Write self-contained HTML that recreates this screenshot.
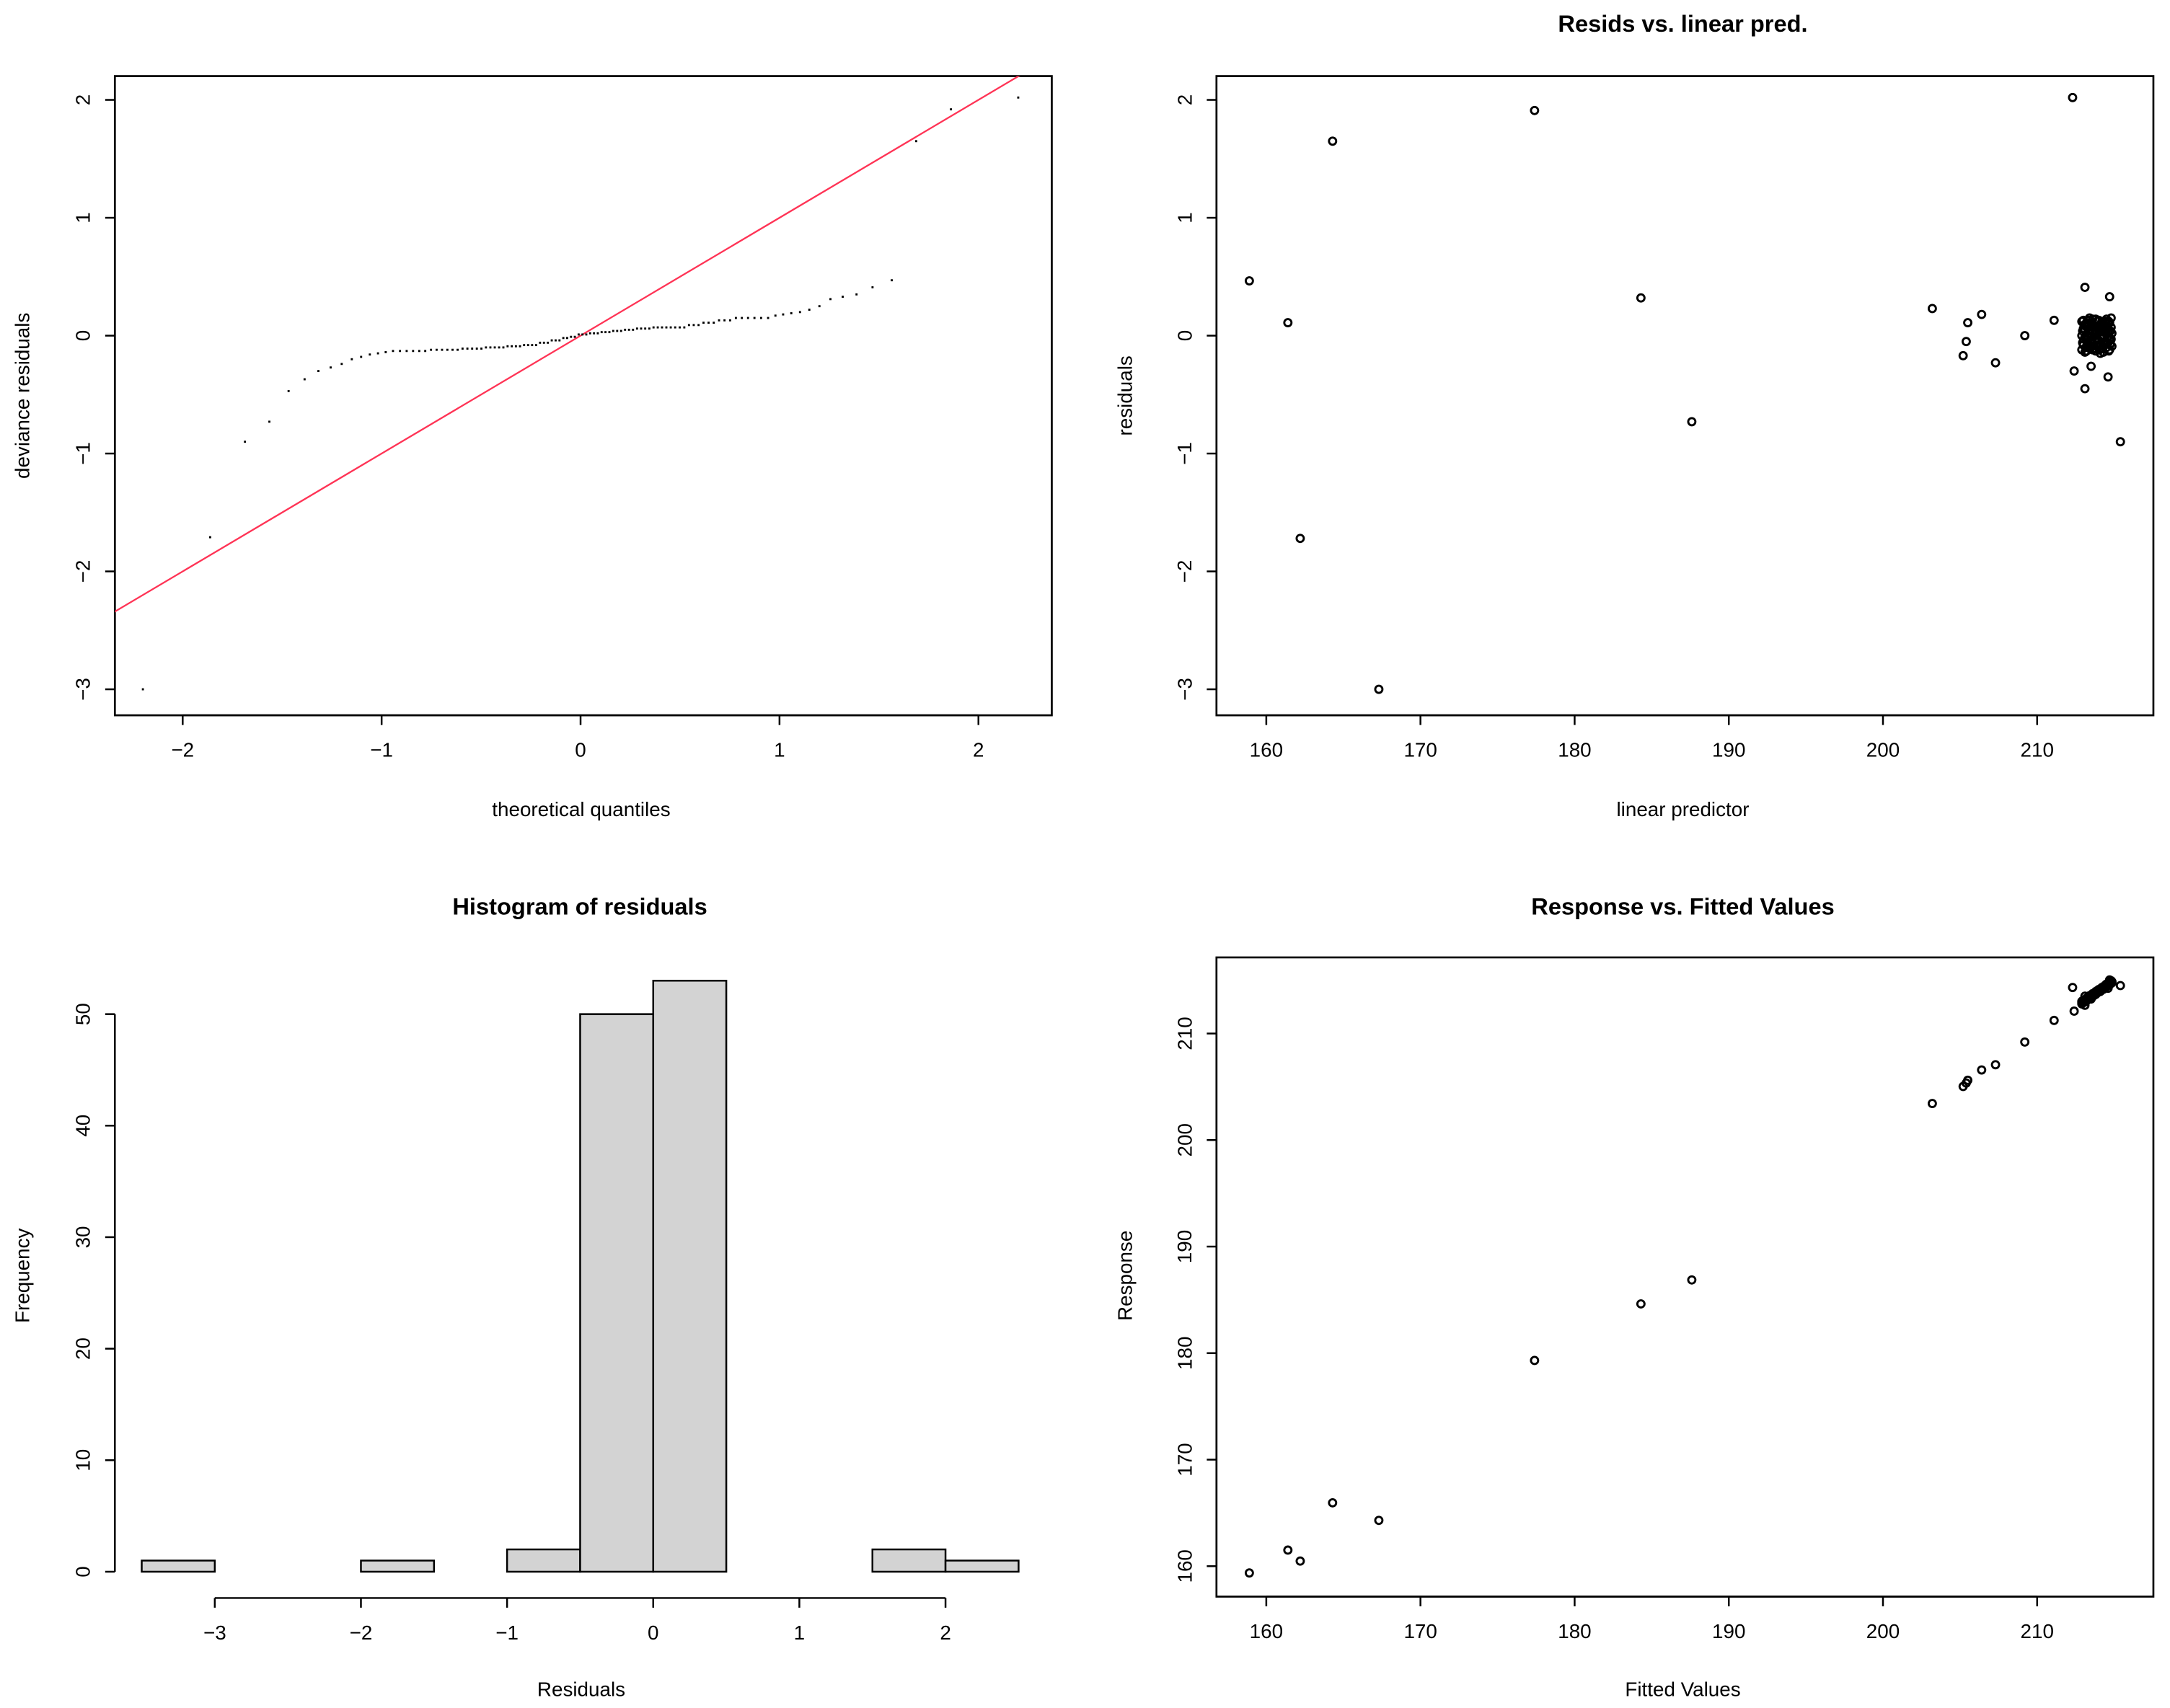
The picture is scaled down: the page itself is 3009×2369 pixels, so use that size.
<!DOCTYPE html>
<html><head><meta charset="utf-8"><style>
html,body{margin:0;padding:0;background:#fff}
svg{display:block;font-family:"Liberation Sans",sans-serif}
</style></head><body>
<svg id="s" width="3009" height="2369" viewBox="0 0 1568 1234.5" xmlns="http://www.w3.org/2000/svg"></svg>
<script>
// ---- data ----
const qqResiduals = [-3.0,-1.71,-0.9,-0.73,
 -0.47,-0.37,-0.30,-0.27,-0.24,-0.20,-0.18,-0.16,-0.15,-0.14,
 -0.13,-0.13,-0.13,-0.13,-0.13,-0.13,-0.12,-0.12,-0.12,-0.12,-0.12,-0.12,
 -0.11,-0.11,-0.11,-0.11,-0.11,-0.10,-0.10,-0.10,-0.10,-0.10,
 -0.09,-0.09,-0.09,-0.09,-0.08,-0.08,-0.08,-0.08,-0.06,-0.06,-0.06,
 -0.04,-0.04,-0.04,-0.02,-0.02,-0.01,-0.01,
 0.01,0.01,0.01,0.02,0.02,0.02,0.03,0.03,0.03,0.04,0.04,0.04,0.05,0.05,0.05,
 0.06,0.06,0.06,0.06,0.07,0.07,0.07,0.07,0.07,0.07,0.07,0.07,
 0.09,0.09,0.09,0.11,0.11,0.11,0.13,0.13,0.13,0.15,0.15,0.15,0.15,0.15,0.15,
 0.17,0.18,0.19,0.20,0.22,0.25,0.31,0.33,0.35,0.41,0.47,
 1.65,1.92,2.02];
const histBreaks = [-3.5,-3,-2.5,-2,-1.5,-1,-0.5,0,0.5,1,1.5,2,2.5];
const fittedOut = [158.9,161.4,162.2,164.3,167.3,177.4,184.3,187.6,203.2,205.2,205.4,205.5,206.4,207.3,209.2,211.1,212.3,212.4,213.1,213.1,213.5,214.6,214.7,215.4];
const residOut  = [0.465,0.11,-1.72,1.65,-3.0,1.91,0.32,-0.73,0.23,-0.17,-0.05,0.11,0.18,-0.23,0.0,0.13,2.02,-0.30,0.41,-0.45,-0.26,-0.35,0.33,-0.9];
const fittedCluster = [212.9,213.0,213.1,213.2,213.3,213.4,213.5,213.6,213.7,213.8,213.9,214.0,214.1,214.2,214.3,214.4,214.5,214.6,214.7,214.8,
 212.9,213.0,213.1,213.2,213.3,213.4,213.5,213.6,213.7,213.8,213.9,214.0,214.1,214.2,214.3,214.4,214.5,214.6,214.7,214.8,
 212.9,213.0,213.1,213.2,213.3,213.4,213.5,213.6,213.7,213.8,213.9,214.0,214.1,214.2,214.3,214.4,214.5,214.6,214.7,214.8,
 212.95,213.05,213.15,213.25,213.35,213.45,213.55,213.65,213.75,213.85,213.95,214.05,214.15,214.25,214.35,214.45,214.55,214.65,214.75,214.85,
 212.95,213.05,213.15,213.25,213.35,213.45,213.55,213.65,213.75,213.85,213.95,214.05,214.15,214.25,214.35,214.45,214.55,214.65,214.75,214.85];
const residCluster = [0.12,-0.08,0.05,-0.13,0.10,0.02,-0.05,0.14,-0.11,0.07,-0.02,0.13,-0.09,0.04,-0.14,0.09,0.01,-0.06,0.11,-0.03,
 -0.12,0.06,-0.01,0.11,-0.07,0.15,-0.10,0.03,0.08,-0.13,0.12,-0.04,0.06,-0.11,0.10,-0.08,0.14,0.03,-0.12,0.07,
 0.00,0.13,-0.14,-0.03,0.04,-0.09,0.09,-0.12,0.01,0.14,-0.06,0.08,-0.15,0.12,-0.01,0.05,-0.10,0.10,-0.04,0.15,
 -0.06,0.09,-0.10,0.07,-0.02,0.05,0.11,-0.07,0.03,-0.09,0.06,-0.12,0.10,0.00,0.07,-0.05,-0.02,0.12,0.04,-0.09,
 0.04,-0.03,0.08,-0.06,0.13,-0.11,0.00,0.09,-0.04,0.02,-0.08,0.03,-0.01,0.08,-0.06,0.12,0.06,-0.13,-0.07,0.02];
const qqXTicks = [-2,-1,0,1,2];
const residYTicks = [-3,-2,-1,0,1,2];
const fitXTicks = [160,170,180,190,200,210];
const respYTicks = [160,170,180,190,200,210];
const histXTicks = [-3,-2,-1,0,1,2];
const histYTicks = [0,10,20,30,40,50];

const S=document.getElementById('s'),NS='http://www.w3.org/2000/svg';
function mk(t,a,p){const e=document.createElementNS(NS,t);for(const k in a)e.setAttribute(k,a[k]);(p||S).appendChild(e);return e;}
function txt(x,y,s,o){const e=mk('text',{x:x,y:y,'text-anchor':'middle','font-size':(o&&o.fs)||14.5,fill:'#000'});
 if(o&&o.bold)e.setAttribute('font-weight','bold');if(o&&o.rot)e.setAttribute('transform','rotate(-90 '+x+' '+y+')');e.textContent=s;return e;}
function lin(d0,d1,r0,r1){return v=>r0+(v-d0)*(r1-r0)/(d1-d0);}
function box(x0,y0,x1,y1,name){const r=mk('rect',{x:x0,y:y0,width:x1-x0,height:y1-y0,fill:'none',stroke:'#000','stroke-width':1.4});}
function xAxis(ticks,sx,y,name){const g=mk('g',{});
 mk('line',{x1:sx(ticks[0]),x2:sx(ticks[ticks.length-1]),y1:y,y2:y,stroke:'#000','stroke-width':1.3},g);
 ticks.forEach(t=>{mk('line',{x1:sx(t),x2:sx(t),y1:y,y2:y+7,stroke:'#000','stroke-width':1.3},g);const e=txt(sx(t),y+30,String(t).replace('-','\u2212'));g.appendChild(e);});}
function yAxis(ticks,sy,x,name){const g=mk('g',{});
 mk('line',{x1:x,x2:x,y1:sy(ticks[0]),y2:sy(ticks[ticks.length-1]),stroke:'#000','stroke-width':1.3},g);
 ticks.forEach(t=>{mk('line',{x1:x,x2:x-7,y1:sy(t),y2:sy(t),stroke:'#000','stroke-width':1.3},g);const e=txt(x-18,sy(t),String(t).replace('-','\u2212'),{rot:1});g.appendChild(e);});}

// ---- panel 1: QQ ----
const q1x=lin(0,1,419.5,563.25), q1y=lin(0,1,242.6,157.4);
const clip=mk('clipPath',{id:'c1'});mk('rect',{x:83,y:55,width:677,height:462},clip);
box(83,55,760,517,'qq-plot-box');
xAxis(qqXTicks,q1x,517,'qq-x-axis');yAxis(residYTicks,q1y,83,'qq-y-axis');
txt(420,590,'theoretical quantiles');
txt(21,286,'deviance residuals',{rot:1});
const ref=mk('line',{x1:q1x(-2.5),y1:q1y(-2.5),x2:q1x(2.5),y2:q1y(2.5),stroke:'#ff3355','stroke-width':1.2,'clip-path':'url(#c1)'});

function qnorm(p){const a=[-39.69683028665376,220.9460984245205,-275.9285104469687,138.357751867269,-30.66479806614716,2.506628277459239],b=[-54.47609879822406,161.5858368580409,-155.6989798598866,66.80131188771972,-13.28068155288572],c=[-0.007784894002430293,-0.3223964580411365,-2.400758277161838,-2.549732539343734,4.374664141464968,2.938163982698783],d=[0.007784695709041462,0.3224671290700398,2.445134137142996,3.754408661907416];
 let q,r;if(p<0.02425){q=Math.sqrt(-2*Math.log(p));return(((((c[0]*q+c[1])*q+c[2])*q+c[3])*q+c[4])*q+c[5])/((((d[0]*q+d[1])*q+d[2])*q+d[3])*q+1);}
 if(p>1-0.02425){q=Math.sqrt(-2*Math.log(1-p));return-(((((c[0]*q+c[1])*q+c[2])*q+c[3])*q+c[4])*q+c[5])/((((d[0]*q+d[1])*q+d[2])*q+d[3])*q+1);}
 q=p-0.5;r=q*q;return(((((a[0]*r+a[1])*r+a[2])*r+a[3])*r+a[4])*r+a[5])*q/(((((b[0]*r+b[1])*r+b[2])*r+b[3])*r+b[4])*r+1);}
const qs=qqResiduals.slice().sort((a,b)=>a-b),n=qs.length,qmax=Math.abs(qnorm(0.5/n)),qsc=2.2/qmax;
const gq=mk('g',{});
qs.forEach((v,i)=>{const t=qnorm((i+0.5)/n)*qsc;const p=mk('rect',{x:q1x(t)-0.75,y:q1y(v)-0.75,width:1.5,height:1.5,fill:'#000'},gq);});

// ---- panel 2: resid vs linear pred ----
const f2x=lin(160,210,915,1472), f2y=q1y;
const fitted=fittedOut.concat(fittedCluster), resid=residOut.concat(residCluster);
box(879,55,1556,517,'resid-plot-box');
xAxis(fitXTicks,f2x,517,'resid-x-axis');yAxis(residYTicks,f2y,879,'resid-y-axis');
txt(1216,23,'Resids vs. linear pred.',{bold:1,fs:17});
txt(1216,590,'linear predictor');
txt(818,286,'residuals',{rot:1});
const g2=mk('g',{});
fitted.forEach((f,i)=>{const c=mk('circle',{cx:f2x(f),cy:f2y(resid[i]),r:2.6,fill:'none',stroke:'#000','stroke-width':1.5},g2);});

// ---- panel 3: histogram ----
const h3x=lin(0,1,472,577.6), h3y=lin(0,50,1136,733);
const counts=histBreaks.slice(0,-1).map((b,i)=>qqResiduals.filter(v=>v>b&&v<=histBreaks[i+1]).length);
xAxis(histXTicks,h3x,1155,'hist-x-axis');yAxis(histYTicks,h3y,83,'hist-y-axis');
txt(419,661,'Histogram of residuals',{bold:1,fs:17});
txt(420,1226,'Residuals');
txt(21,922,'Frequency',{rot:1});
const g3=mk('g',{});
counts.forEach((c,i)=>{const x0=h3x(histBreaks[i]),x1=h3x(histBreaks[i+1]);
 const r=mk('rect',{x:x0,y:h3y(c),width:x1-x0,height:h3y(0)-h3y(c),fill:'#d3d3d3',stroke:'#000','stroke-width':1.3},g3);
 });

// ---- panel 4: response vs fitted ----
const r4y=lin(160,210,1132,747);
box(879,692,1556,1154,'response-plot-box');
xAxis(fitXTicks,f2x,1154,'response-x-axis');yAxis(respYTicks,r4y,879,'response-y-axis');
txt(1216,661,'Response vs. Fitted Values',{bold:1,fs:17});
txt(1216,1226,'Fitted Values');
txt(818,922,'Response',{rot:1});
const g4=mk('g',{});
fitted.forEach((f,i)=>{const c=mk('circle',{cx:f2x(f),cy:r4y(f+resid[i]),r:2.6,fill:'none',stroke:'#000','stroke-width':1.5},g4);});
</script>
</body></html>
